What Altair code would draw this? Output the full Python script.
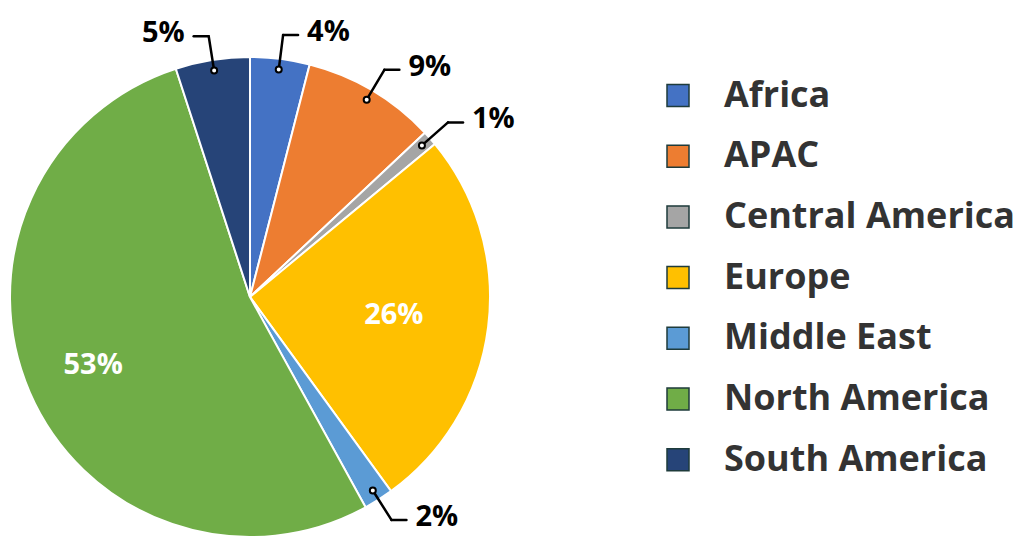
import altair as alt
import pandas as pd

regions = ["Africa", "APAC", "Central America", "Europe", "Middle East", "North America", "South America"]
shares = [4, 9, 1, 26, 2, 53, 5]
colors = ["#4472C4", "#ED7D31", "#A5A5A5", "#FFC000", "#5B9BD5", "#70AD47", "#264478"]

df = pd.DataFrame({"region": regions, "share": shares, "idx": list(range(len(regions)))})

CX, CY, R = 242, 289, 240
FONT = "Open Sans"
LFS = 36

base = alt.Chart(df).transform_joinaggregate(
    total="sum(share)"
).transform_window(
    cum="sum(share)", sort=[alt.SortField("idx")], frame=[None, 0]
).transform_calculate(
    ang="2*PI*(datum.cum - datum.share/2)/datum.total",
    s="sin(datum.ang)",
    c="cos(datum.ang)",
    side="datum.s >= 0 ? 1 : -1",
    px="0.955*datum.s",
    py="0.955*datum.c",
    ex="1.1*datum.s",
    ey="1.1*datum.c",
    hx=f"1.1*datum.s + datum.side*15/{R}",
    lr="0.5 + datum.share/250",
    ix="datum.lr*datum.s",
    iy="datum.lr*datum.c",
    label="datum.share + '%'",
)

xs = alt.Scale(domain=[-1, 1], range=[CX - R, CX + R], nice=False, zero=False)
ys = alt.Scale(domain=[-1, 1], range=[CY + R, CY - R], nice=False, zero=False)

arcs = base.mark_arc(outerRadius=R, stroke="white", strokeWidth=2).encode(
    theta=alt.Theta("share:Q", stack=True),
    color=alt.Color(
        "region:N",
        scale=alt.Scale(domain=regions, range=colors),
        legend=alt.Legend(
            title=None, orient="none", legendX=652, legendY=69.5,
            symbolType="square", symbolSize=484, symbolStrokeColor="#1e3b3b",
            symbolStrokeWidth=1.5, symbolOpacity=1,
            labelFont=FONT, labelFontSize=LFS, labelFontWeight="bold",
            labelColor="#333333", labelOffset=28, rowPadding=24.7, labelLimit=400,
        ),
    ),
    order=alt.Order("idx:Q"),
    x=alt.value(CX),
    y=alt.value(CY),
)

small = base.transform_filter("datum.share < 10")

seg1 = small.mark_rule(color="black", strokeWidth=2.5, strokeCap="round").encode(
    x=alt.X("px:Q", scale=xs, axis=None),
    y=alt.Y("py:Q", scale=ys, axis=None),
    x2="ex:Q",
    y2="ey:Q",
)
seg2 = small.mark_rule(color="black", strokeWidth=2.5, strokeCap="round").encode(
    x=alt.X("ex:Q", scale=xs, axis=None),
    y=alt.Y("ey:Q", scale=ys, axis=None),
    x2="hx:Q",
    y2="ey:Q",
)
dots = small.mark_circle(fill="white", stroke="black", strokeWidth=2, size=36, opacity=1).encode(
    x=alt.X("px:Q", scale=xs, axis=None),
    y=alt.Y("py:Q", scale=ys, axis=None),
)
txt_r = small.transform_filter("datum.side > 0").mark_text(
    align="left", baseline="middle", dx=9, dy=-3, font=FONT, fontSize=29, fontWeight="bold", color="black"
).encode(
    x=alt.X("hx:Q", scale=xs, axis=None),
    y=alt.Y("ey:Q", scale=ys, axis=None),
    text="label:N",
)
txt_l = small.transform_filter("datum.side < 0").mark_text(
    align="right", baseline="middle", dx=-9, dy=-3, font=FONT, fontSize=29, fontWeight="bold", color="black"
).encode(
    x=alt.X("hx:Q", scale=xs, axis=None),
    y=alt.Y("ey:Q", scale=ys, axis=None),
    text="label:N",
)
txt_in = base.transform_filter("datum.share >= 10").mark_text(
    align="center", baseline="middle", font=FONT, fontSize=29, fontWeight="bold", color="white"
).encode(
    x=alt.X("ix:Q", scale=xs, axis=None),
    y=alt.Y("iy:Q", scale=ys, axis=None),
    text="label:N",
)

chart = alt.layer(arcs, seg1, seg2, dots, txt_r, txt_l, txt_in).properties(
    width=1013, height=530, padding=0, autosize="none"
).configure_view(stroke=None)

chart.save("out.html", embed_options={"renderer": "svg", "actions": False})
